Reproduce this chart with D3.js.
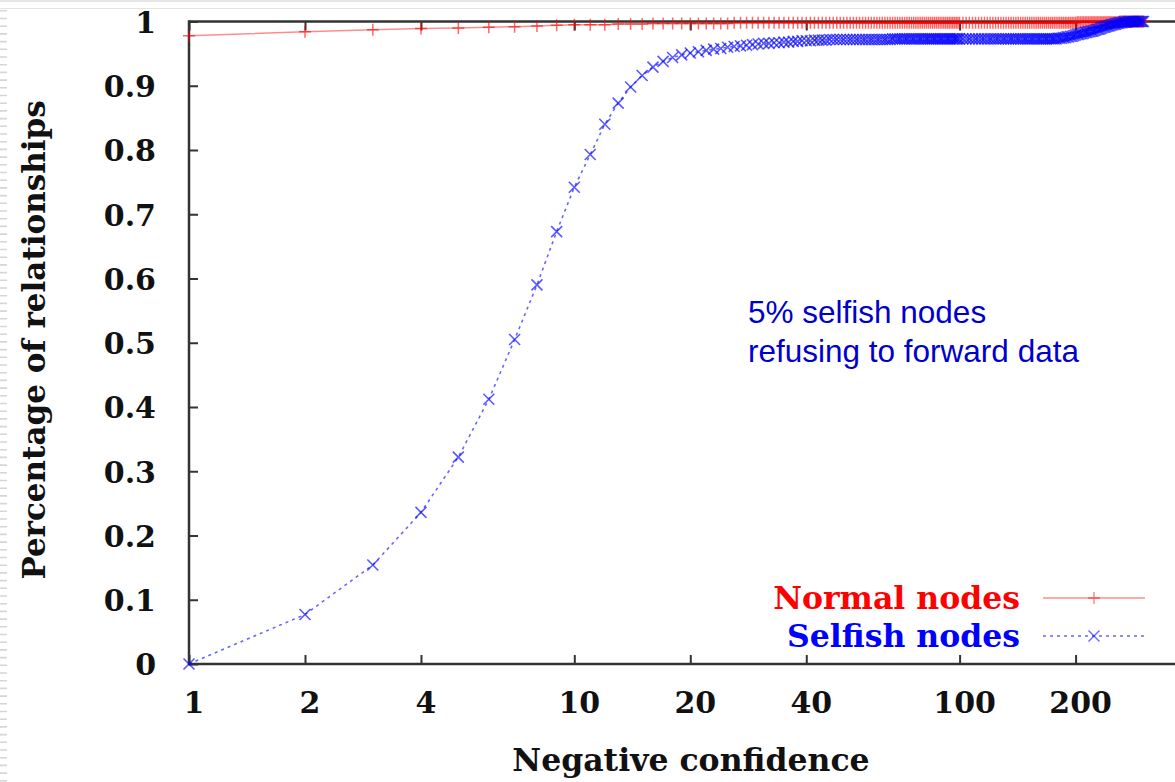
<!DOCTYPE html>
<html>
<head>
<meta charset="utf-8">
<script src="https://cdn.jsdelivr.net/npm/d3@7"></script>
<style>
  html, body { margin: 0; padding: 0; background: #fff; }
  svg { display: block; }
</style>
</head>
<body>
<svg id="chart" width="1175" height="782"></svg>
<script>
// ---- data ----
const confidence = [
  1,2,3,4,5,6,7,8,9,10,
  11,12,13,14,15,16,17,18,19,20,
  21,22,23,24,25,26,27,28,29,30,
  31,32,33,34,35,36,37,38,39,40,
  41,42,43,44,45,46,47,48,49,50,
  51,52,53,54,55,56,57,58,59,60,
  61,62,63,64,65,66,67,68,69,70,
  71,72,73,74,75,76,77,78,79,80,
  81,82,83,84,85,86,87,88,89,90,
  91,92,93,94,95,96,97,98,99,100,
  102,104,106,108,110,112,114,116,118,120,
  122,124,126,128,130,132,134,136,138,140,
  142,144,146,148,150,152,154,156,158,160,
  162,164,166,168,170,172,174,176,178,180,
  182,184,186,188,190,192,194,196,198,200,
  202,204,206,208,210,212,214,216,218,220,
  222,224,226,228,230,232,234,236,238,240,
  242,244,246,248,250,252,254,256,258,260,
  262,264,266,268,270,272,274,276,278,280,
  282,284,286,288,290,292,294,296,298,300
];
const selfishNodes = [
  0.000,0.077,0.154,0.236,0.322,0.412,0.505,0.590,0.673,0.742,
  0.793,0.840,0.873,0.898,0.916,0.929,0.938,0.944,0.948,0.951,
  0.953,0.955,0.957,0.958,0.960,0.961,0.962,0.963,0.964,0.965,
  0.966,0.966,0.967,0.967,0.968,0.968,0.969,0.969,0.970,0.970,
  0.970,0.971,0.971,0.971,0.971,0.972,0.972,0.972,0.972,0.972,
  0.972,0.972,0.972,0.972,0.972,0.972,0.972,0.972,0.972,0.972,
  0.972,0.972,0.972,0.972,0.972,0.972,0.973,0.973,0.973,0.973,
  0.973,0.973,0.973,0.973,0.973,0.973,0.973,0.973,0.973,0.973,
  0.973,0.973,0.973,0.973,0.973,0.973,0.973,0.973,0.973,0.973,
  0.973,0.973,0.973,0.973,0.973,0.973,0.973,0.973,0.973,0.973,
  0.973,0.973,0.973,0.973,0.973,0.973,0.973,0.973,0.973,0.973,
  0.973,0.973,0.973,0.973,0.973,0.973,0.973,0.973,0.973,0.973,
  0.973,0.973,0.973,0.973,0.973,0.973,0.973,0.973,0.973,0.973,
  0.973,0.973,0.973,0.973,0.973,0.973,0.973,0.973,0.973,0.974,
  0.974,0.974,0.975,0.975,0.976,0.976,0.977,0.977,0.978,0.979,
  0.980,0.980,0.981,0.981,0.982,0.983,0.983,0.984,0.984,0.985,
  0.985,0.986,0.987,0.988,0.988,0.989,0.990,0.991,0.991,0.992,
  0.993,0.993,0.994,0.995,0.995,0.996,0.996,0.997,0.997,0.998,
  0.998,0.998,0.999,0.999,0.999,0.999,1.000,1.000,1.000,1.000,
  1.000,1.000,1.000,1.000,1.000,1.000,1.000,1.000,1.000,1.000
];
const normalNodes = [
  0.978,0.984,0.987,0.989,0.990,0.991,0.992,0.993,0.994,0.995,
  0.995,0.995,0.996,0.996,0.996,0.997,0.997,0.997,0.997,0.997,
  0.997,0.997,0.997,0.997,0.997,0.998,0.998,0.998,0.998,0.998,
  0.998,0.998,0.998,0.998,0.998,0.998,0.998,0.998,0.998,0.998,
  0.998,0.998,0.998,0.998,0.998,0.998,0.998,0.998,0.998,0.998,
  0.998,0.998,0.998,0.998,0.998,0.998,0.998,0.998,0.998,0.998,
  0.998,0.998,0.998,0.998,0.998,0.998,0.998,0.998,0.998,0.998,
  0.998,0.998,0.998,0.998,0.998,0.998,0.998,0.998,0.998,0.998,
  0.998,0.998,0.998,0.998,0.998,0.998,0.998,0.998,0.998,0.998,
  0.998,0.998,0.998,0.998,0.998,0.998,0.998,0.998,0.998,0.998,
  0.998,0.998,0.998,0.998,0.998,0.998,0.998,0.998,0.998,0.998,
  0.998,0.998,0.998,0.998,0.998,0.998,0.998,0.998,0.998,0.998,
  0.998,0.998,0.998,0.998,0.998,0.998,0.998,0.998,0.998,0.998,
  0.998,0.998,0.998,0.998,0.998,0.998,0.998,0.998,0.998,0.998,
  0.998,0.998,0.998,0.998,0.998,0.998,0.998,0.998,0.998,0.998,
  0.999,0.999,0.999,0.999,0.999,0.999,0.999,0.999,0.999,0.999,
  0.999,0.999,0.999,0.999,0.999,0.999,0.999,0.999,0.999,0.999,
  0.999,0.999,0.999,0.999,0.999,0.999,0.999,0.999,0.999,1.000,
  1.000,1.000,1.000,1.000,1.000,1.000,1.000,1.000,1.000,1.000,
  1.000,1.000,1.000,1.000,1.000,1.000,1.000,1.000,1.000,1.000
];
const xTicks = [1, 2, 4, 10, 20, 40, 100, 200];
const yTicks = [0, 0.1, 0.2, 0.3, 0.4, 0.5, 0.6, 0.7, 0.8, 0.9, 1];
const seriesNames = ["Normal nodes", "Selfish nodes"];
const noteLines = ["5% selfish nodes", "refusing to forward data"];
const xTitle = "Negative confidence";
const yTitle = "Percentage of relationships";

// ---- layout ----
const W = 1175, H = 782;
const mLeft = 189, mTop = 21.5, mBottom = 664;
const decade = 385.3;
const svg = d3.select("#chart");

const x = d3.scaleLog().domain([1, 1000]).range([mLeft, mLeft + 3 * decade]);
const y = d3.scaleLinear().domain([0, 1]).range([mBottom, mTop]);

const serif = "'DejaVu Serif', serif";
const axisColor = "#333";

// slide decoration (page edge)
svg.append("line").attr("x1", 0).attr("x2", W).attr("y1", 1).attr("y2", 1)
  .attr("stroke", "#e6e6e6").attr("stroke-width", 2);
svg.append("line").attr("x1", 0).attr("x2", W).attr("y1", 8.5).attr("y2", 8.5)
  .attr("stroke", "#e3e3e3").attr("stroke-width", 1);
svg.append("line").attr("x1", 3.5).attr("x2", 3.5).attr("y1", 10).attr("y2", H)
  .attr("stroke", "#d6d6d6").attr("stroke-width", 7).attr("stroke-dasharray", "1.6,6.1");

// clip for plot
svg.append("defs").append("clipPath").attr("id", "clip")
  .append("rect").attr("x", mLeft - 12).attr("y", mTop - 12).attr("width", W).attr("height", mBottom - mTop + 24);

// axes
const yAxis = d3.axisLeft(y).tickValues(yTicks).tickSize(-9).tickPadding(33)
  .tickFormat(d => d === 0 ? "0" : d === 1 ? "1" : d3.format(".1f")(d));
const gy = svg.append("g").attr("transform", `translate(${mLeft},0)`).call(yAxis);
const xAxis = d3.axisBottom(x).tickValues(xTicks).tickSize(-9).tickPadding(34).tickFormat(d3.format("d"));
const gx = svg.append("g").attr("transform", `translate(0,${mBottom})`).call(xAxis);
const xTop = d3.axisTop(x).tickValues(xTicks).tickSize(-9).tickFormat("");
const gt = svg.append("g").attr("transform", `translate(0,${mTop})`).call(xTop);

[gx, gy, gt].forEach(g => {
  g.select(".domain").remove();
  g.selectAll(".tick line").attr("stroke", axisColor).attr("stroke-width", 2);
  g.selectAll(".tick text").attr("font-family", serif).attr("font-weight", "bold")
    .attr("font-size", 30).attr("fill", "#111");
});
gy.selectAll(".tick text").attr("dy", "0.36em");
gx.selectAll(".tick text").attr("dy", "0.5em").attr("dx", 4.5);

// frame lines
svg.append("line").attr("x1", mLeft).attr("x2", W).attr("y1", mTop).attr("y2", mTop)
  .attr("stroke", axisColor).attr("stroke-width", 2.5);
svg.append("line").attr("x1", mLeft).attr("x2", W).attr("y1", mBottom).attr("y2", mBottom)
  .attr("stroke", axisColor).attr("stroke-width", 2.5);
svg.append("line").attr("x1", mLeft).attr("x2", mLeft).attr("y1", mTop - 1.2).attr("y2", mBottom + 1.2)
  .attr("stroke", axisColor).attr("stroke-width", 2.5);

// series
const plot = svg.append("g").attr("clip-path", "url(#clip)");
const plus = "M-6,0H6M0,-6V6";
const cross = "M-5.5,-5.5L5.5,5.5M-5.5,5.5L5.5,-5.5";
const red = "#ff0000", blue = "#0000ff";

const normalData = confidence.map((c, i) => [c, normalNodes[i]]);
const selfishData = confidence.map((c, i) => [c, selfishNodes[i]]);
const line = d3.line().x(d => x(d[0])).y(d => y(d[1]));

plot.append("path").datum(normalData).attr("d", line).attr("fill", "none")
  .attr("stroke", red).attr("stroke-opacity", 0.45).attr("stroke-width", 1.5);
plot.append("g").selectAll("path").data(normalData).join("path")
  .attr("transform", d => `translate(${x(d[0])},${y(d[1])})`).attr("d", plus)
  .attr("fill", "none").attr("stroke", red).attr("stroke-opacity", 0.6).attr("stroke-width", 1.5);

plot.append("path").datum(selfishData).attr("d", line).attr("fill", "none")
  .attr("stroke", blue).attr("stroke-opacity", 0.6).attr("stroke-width", 1.6)
  .attr("stroke-dasharray", "3,4");
plot.append("g").selectAll("path").data(selfishData).join("path")
  .attr("transform", d => `translate(${x(d[0])},${y(d[1])})`).attr("d", cross)
  .attr("fill", "none").attr("stroke", blue).attr("stroke-opacity", 0.65).attr("stroke-width", 1.6);

// legend
const legend = svg.append("g");
const legY = [598, 636];
const legColors = [red, blue];
seriesNames.forEach((name, i) => {
  legend.append("text").attr("x", 1020).attr("y", legY[i]).attr("dy", "0.36em")
    .attr("text-anchor", "end").attr("font-family", serif).attr("font-weight", "bold")
    .attr("font-size", 31.5).attr("fill", legColors[i]).text(name);
  const l = legend.append("line").attr("x1", 1043).attr("x2", 1145).attr("y1", legY[i]).attr("y2", legY[i])
    .attr("stroke", legColors[i]);
  if (i === 0) l.attr("stroke-opacity", 0.45).attr("stroke-width", 1.5);
  else l.attr("stroke-opacity", 0.6).attr("stroke-width", 1.6).attr("stroke-dasharray", "3,4");
  legend.append("path").attr("transform", `translate(1094,${legY[i]})`).attr("d", i === 0 ? plus : cross)
    .attr("fill", "none").attr("stroke", legColors[i]).attr("stroke-opacity", i === 0 ? 0.5 : 0.6)
    .attr("stroke-width", 1.4);
});

// annotation
noteLines.forEach((t, i) => {
  svg.append("text").attr("x", 748).attr("y", 323 + i * 39)
    .attr("font-family", "'Liberation Sans', Arial, sans-serif").attr("font-size", 31.5)
    .attr("fill", "#0000cc").text(t);
});

// axis titles
svg.append("text").attr("x", 691).attr("y", 771).attr("text-anchor", "middle")
  .attr("font-family", serif).attr("font-weight", "bold").attr("font-size", 31.5).attr("fill", "#111")
  .text(xTitle);
svg.append("text").attr("transform", "translate(45,340) rotate(-90)").attr("text-anchor", "middle")
  .attr("font-family", serif).attr("font-weight", "bold").attr("font-size", 31).attr("fill", "#111")
  .text(yTitle);
</script>
</body>
</html>
